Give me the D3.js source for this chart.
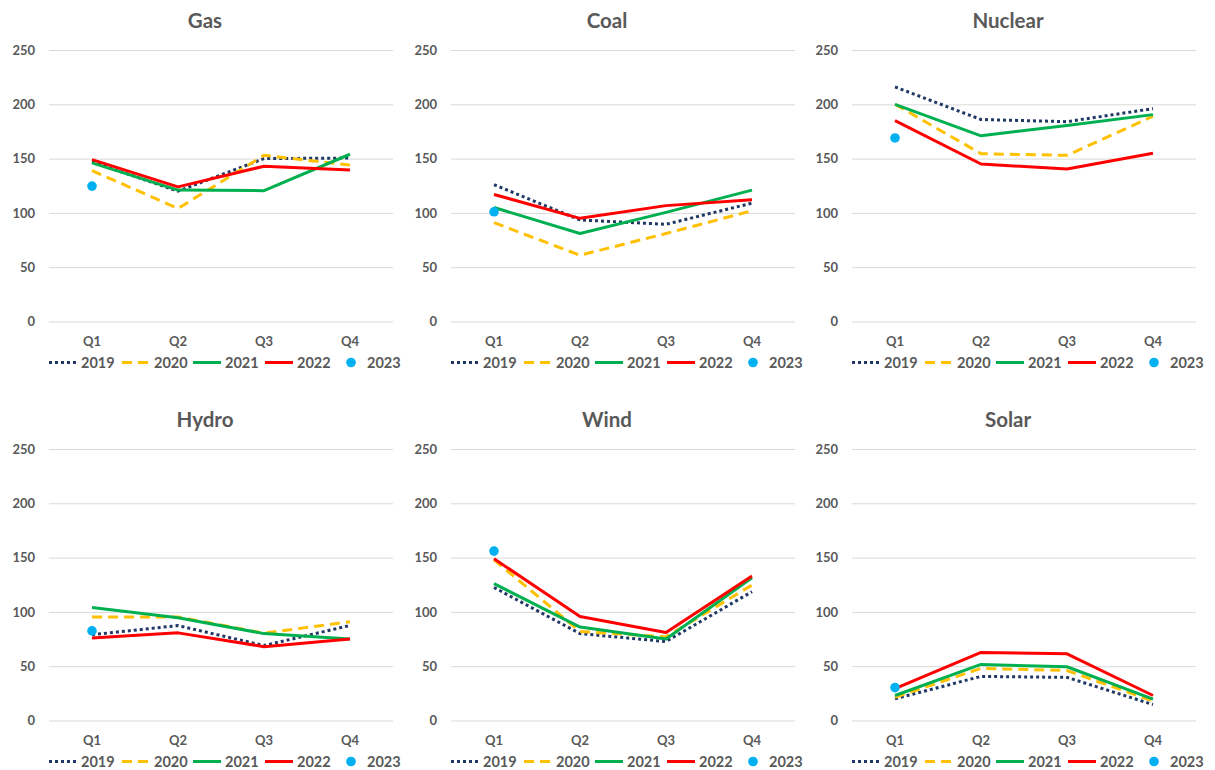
<!DOCTYPE html>
<html>
<head>
<meta charset="utf-8">
<script src="https://cdn.jsdelivr.net/npm/d3@7"></script>
<style>
  html, body { margin: 0; padding: 0; background: #fff; }
  svg { display: block; font-family: Lato, "Open Sans", "Liberation Sans", sans-serif; }
</style>
</head>
<body>
<svg id="chart" width="1215" height="770"></svg>
<script>
// ---- Data ----
const categories = ["Q1", "Q2", "Q3", "Q4"];
const years = ["2019", "2020", "2021", "2022", "2023"];
const fuels = ["Gas", "Coal", "Nuclear", "Hydro", "Wind", "Solar"];
const yTicks = [0, 50, 100, 150, 200, 250];

// each fuel: one row per year (2019..2022 = Q1..Q4, 2023 = Q1 only)
const gas = [
  [147, 120, 150, 150.5],
  [139, 104, 153, 144],
  [146, 121, 120.5, 154],
  [149, 124, 143, 139.5],
  [124.7]
];
const coal = [
  [126, 93.5, 89.5, 109],
  [91, 61, 81, 102],
  [105, 81, 100.5, 121],
  [117, 95, 106.7, 112],
  [101]
];
const nuclear = [
  [216, 186, 184, 196],
  [200, 154.5, 153, 189],
  [200, 171, 180.5, 190.5],
  [185, 145, 140.4, 155],
  [169]
];
const hydro = [
  [79, 87.4, 69, 87.5],
  [95.4, 95.4, 80.4, 91],
  [104, 94.7, 80, 75],
  [76, 80.7, 68, 75],
  [82.5]
];
const wind = [
  [122.5, 80, 72.7, 118.6],
  [148, 82, 77, 124.7],
  [126, 86, 75, 131.4],
  [149, 95.7, 81, 133],
  [156]
];
const solar = [
  [20, 40.6, 39.7, 14.7],
  [21.4, 48, 46, 18],
  [23, 51.6, 49.5, 19.6],
  [29.3, 62.7, 61.4, 23],
  [30.3]
];
const fuelData = [gas, coal, nuclear, hydro, wind, solar];

// ---- Styles ----
const seriesColors = ["#203864", "#FFC000", "#00B050", "#FF0000", "#00B0F0"];
const seriesDash = ["3,3", "10,6", null, null, null];
const textColor = "#595959";
const gridColor = "#D9D9D9";

const svg = d3.select("#chart");

const panelX = [0, 402, 803];
const panelY = [0, 399];
const plotLeft = 49, plotRight = 393, plotTop = 50, plotBottom = 321.5;

const x = d3.scaleBand().domain(categories).range([plotLeft, plotRight]).padding(0);
const y = d3.scaleLinear().domain([0, 250]).range([plotBottom, plotTop]);

const line = d3.line()
  .x((d, i) => x(categories[i]) + x.bandwidth() / 2)
  .y(d => y(d));

fuels.forEach((fuel, fi) => {
  const g = svg.append("g")
    .attr("transform", `translate(${panelX[fi % 3]},${panelY[Math.floor(fi / 3)]})`);

  // title
  g.append("text")
    .attr("x", 205).attr("y", 21)
    .attr("text-anchor", "middle").attr("dy", "0.36em")
    .attr("fill", textColor).attr("font-weight", "bold").attr("font-size", 20.5)
    .text(fuel);

  // y axis with gridlines
  const ya = g.append("g")
    .attr("transform", `translate(${plotLeft},0)`)
    .call(d3.axisLeft(y).tickValues(yTicks).tickSize(-(plotRight - plotLeft)).tickPadding(14));
  ya.select(".domain").remove();
  ya.selectAll(".tick line").attr("stroke", gridColor).attr("stroke-width", 1);
  ya.selectAll(".tick text")
    .attr("fill", textColor).attr("font-size", 13).attr("font-weight", "bold")
    .attr("font-family", "Lato, 'Open Sans', sans-serif");

  // x axis labels
  const xa = g.append("g")
    .attr("transform", `translate(0,${plotBottom})`)
    .call(d3.axisBottom(x).tickSize(0).tickPadding(20));
  xa.select(".domain").remove();
  xa.selectAll(".tick text")
    .attr("dy", "0.36em")
    .attr("fill", textColor).attr("font-size", 13).attr("font-weight", "bold")
    .attr("font-family", "Lato, 'Open Sans', sans-serif");

  // series lines
  const data = fuelData[fi];
  for (let si = 0; si < 4; si++) {
    const p = g.append("path")
      .datum(data[si])
      .attr("d", line)
      .attr("fill", "none")
      .attr("stroke", seriesColors[si])
      .attr("stroke-width", 3)
      .attr("stroke-linejoin", "round");
    if (seriesDash[si]) p.attr("stroke-dasharray", seriesDash[si]);
  }
  // 2023 points
  g.selectAll("circle.p2023")
    .data(data[4])
    .join("circle")
    .attr("class", "p2023")
    .attr("cx", (d, i) => x(categories[i]) + x.bandwidth() / 2)
    .attr("cy", d => y(d))
    .attr("r", 4.8)
    .attr("fill", seriesColors[4]);

  // legend
  const legY = 362.5;
  const swatchX = [49, 122, 193, 265];
  const lg = g.append("g");
  years.slice(0, 4).forEach((yr, si) => {
    const l = lg.append("line")
      .attr("x1", swatchX[si]).attr("x2", swatchX[si] + 28)
      .attr("y1", legY).attr("y2", legY)
      .attr("stroke", seriesColors[si]).attr("stroke-width", 3);
    if (seriesDash[si]) l.attr("stroke-dasharray", seriesDash[si]);
    lg.append("text")
      .attr("x", swatchX[si] + 32).attr("y", legY).attr("dy", "0.36em")
      .attr("fill", textColor).attr("font-size", 14.5).attr("font-weight", "bold")
      .text(yr);
  });
  lg.append("circle").attr("cx", 351).attr("cy", legY).attr("r", 4.8).attr("fill", seriesColors[4]);
  lg.append("text")
    .attr("x", 367).attr("y", legY).attr("dy", "0.36em")
    .attr("fill", textColor).attr("font-size", 14.5).attr("font-weight", "bold")
    .text(years[4]);
});
</script>
</body>
</html>
